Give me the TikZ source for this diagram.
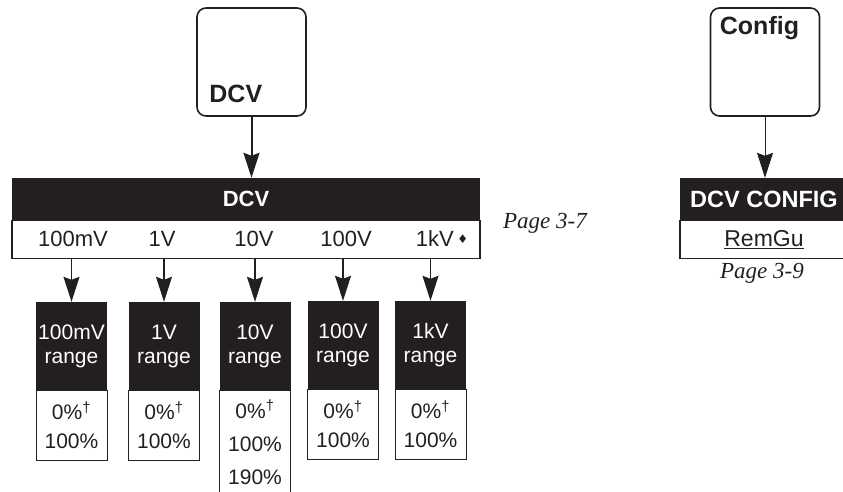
\documentclass[tikz,border=0pt]{standalone}
\usepackage{fontspec}
\setmainfont{Liberation Sans}
\newfontfamily\refpagefont{Liberation Serif}
\newfontfamily\diafont{DejaVu Sans}
\usetikzlibrary{arrows.meta,positioning}
\definecolor{ink}{RGB}{35,31,32}
\tikzset{
  key/.style={draw=ink, rounded corners=9pt, line width=1.6pt, minimum width=109pt, minimum height=108pt, inner sep=0pt},
  keylabel/.style={text=ink, font=\fontsize{25}{25}\selectfont\bfseries, inner sep=0pt},
  bar/.style={fill=ink, text=white, font=\fontsize{22}{22}\selectfont\bfseries, minimum height=42pt, inner sep=0pt},
  row/.style={draw=ink, text=ink, line width=1.2pt, minimum height=38pt, inner sep=0pt},
  lbl/.style={text=ink, font=\fontsize{22}{22}\selectfont, inner sep=0pt},
  rngtop/.style={fill=ink, text=white, align=center, font=\fontsize{21}{24}\selectfont, minimum width=71pt, minimum height=88pt, inner sep=0pt},
  rngbot/.style={draw=ink, text=ink, align=center, font=\fontsize{21}{29}\selectfont, minimum width=71pt, minimum height=70pt, inner sep=0pt},
  pageref/.style={text=ink, font=\fontsize{23}{23}\selectfont\refpagefont\itshape, inner sep=0pt},
  arrow/.style={draw=ink, -{Stealth[length=25pt, width=16pt, inset=3pt]}, line width=1.2pt}
}

\begin{document}
\begin{tikzpicture}[x=1pt, y=-1pt]
    \useasboundingbox (0,0) rectangle (843,491);
    \clip (0,0) rectangle (843,491);

    % DCV key and menu
    \node[key, label={[keylabel, anchor=base west, xshift=13pt, yshift=14pt]south west:DCV}] (dcvkey) at (251.5,62) {};
    \node[bar, minimum width=468pt] (dcvhead) at (246,199) {DCV};
    \node[row, minimum width=468pt, below=0pt of dcvhead] (dcvrow) {};
    \node[lbl] (r100mv) at (73,239) {100mV};
    \node[lbl] (r1v) at (162,239) {1V};
    \node[lbl] (r10v) at (254,239) {10V};
    \node[lbl] (r100v) at (346,239) {100V};
    \node[lbl] (r1kv) at (442,239) {1kV\,\raisebox{3pt}{\diafont\fontsize{12}{12}\selectfont ♦}};
    \node[pageref] (pg37) at (545,223) {Page 3-7};

    % range boxes
    \node[rngtop] (t100mv) at (71.5,346) {100mV\\range};
    \node[rngbot, below=0pt of t100mv] (b100mv) {0\%\textsuperscript{\textdagger}\\100\%};
    \node[rngtop] (t1v) at (164,346) {1V\\range};
    \node[rngbot, below=0pt of t1v] (b1v) {0\%\textsuperscript{\textdagger}\\100\%};
    \node[rngtop] (t10v) at (255,346) {10V\\range};
    \node[rngbot, minimum height=104pt, font=\fontsize{21}{33}\selectfont, below=0pt of t10v] (b10v) {0\%\textsuperscript{\textdagger}\\100\%\\190\%};
    \node[rngtop] (t100v) at (343,345) {100V\\range};
    \node[rngbot, below=0pt of t100v] (b100v) {0\%\textsuperscript{\textdagger}\\100\%};
    \node[rngtop] (t1kv) at (430.5,345) {1kV\\range};
    \node[rngbot, below=0pt of t1kv] (b1kv) {0\%\textsuperscript{\textdagger}\\100\%};

    % Config key and menu
    \node[key, label={[keylabel, anchor=north west, xshift=10pt, yshift=-9pt]north west:Config}] (cfgkey) at (765,62) {};
    \node[bar, minimum width=168pt, font=\fontsize{23.5}{23.5}\selectfont\bfseries] (cfghead) at (764,199) {DCV CONFIG};
    \node[row, minimum width=168pt, font=\fontsize{23}{23}\selectfont, below=0pt of cfghead] (cfgrow) {\underline{RemGu}};
    \node[pageref] (pg39) at (762,273) {Page 3-9};

    \draw[arrow, line width=2pt] (dcvkey.south) -- (dcvkey.south |- dcvhead.north);
    \draw[arrow, line width=1pt] (cfgkey.south) -- (cfgkey.south |- cfghead.north);
    \draw[arrow] (t100mv.north |- dcvrow.south) -- (t100mv.north);
    \draw[arrow] (t1v.north |- dcvrow.south) -- (t1v.north);
    \draw[arrow] (t10v.north |- dcvrow.south) -- (t10v.north);
    \draw[arrow] (t100v.north |- dcvrow.south) -- (t100v.north);
    \draw[arrow] (t1kv.north |- dcvrow.south) -- (t1kv.north);
\end{tikzpicture}
\end{document}
